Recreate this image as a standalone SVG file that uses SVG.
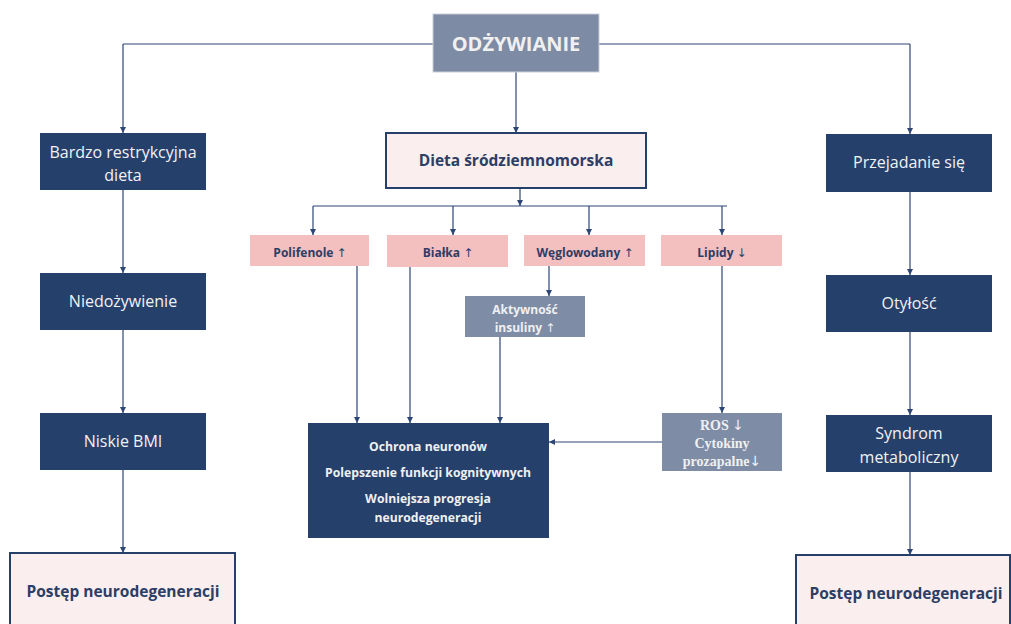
<svg xmlns="http://www.w3.org/2000/svg" width="1011" height="624" viewBox="0 0 1011 624">
<defs>
<marker id="ah" viewBox="0 0 10 10" refX="10" refY="5" markerWidth="6" markerHeight="6" markerUnits="userSpaceOnUse" orient="auto">
<path d="M0,0 L10,5 L0,10 z" fill="#2E4676"/>
</marker>
<style>
.ln{fill:none;stroke:#2E4676;stroke-width:1.2}
.ar{marker-end:url(#ah)}
.navy{fill:#26406C}
.grey{fill:#7F8CA6}
.pink{fill:#F4BFBF}
.light{fill:#FAEEEE;stroke:#26406C;stroke-width:2}
.tw{font-family:"Open Sans","Liberation Sans",sans-serif;font-size:16px;fill:#F2F2F2;text-anchor:middle}
.tb{font-family:"Open Sans","Liberation Sans",sans-serif;font-weight:bold;fill:#2C3E66;text-anchor:middle}
.tbw{font-family:"Open Sans","Liberation Sans",sans-serif;font-weight:bold;fill:#F0F0F0;text-anchor:middle}
.ts{font-family:"Liberation Serif",serif;font-weight:bold;font-size:14px;fill:#F0F0F0;text-anchor:middle}
.arw{font-family:"DejaVu Sans",sans-serif;font-weight:normal}
</style>
</defs>
<rect width="1011" height="624" fill="#FFFFFF"/>

<g id="connectors">
<path class="ln" d="M433,44 H123"/>
<path class="ln ar" d="M123,44 V133"/>
<path class="ln" d="M599,44 H910"/>
<path class="ln ar" d="M910,44 V134"/>
<path class="ln ar" d="M516,72 V133"/>
<path class="ln ar" d="M123,190 V273"/>
<path class="ln ar" d="M123,330 V413"/>
<path class="ln ar" d="M123,470 V553"/>
<path class="ln ar" d="M910,192 V275"/>
<path class="ln ar" d="M910,332 V415"/>
<path class="ln ar" d="M910,472 V555"/>
<path class="ln ar" d="M520,188 V206"/>
<path class="ln" d="M313,206 H727"/>
<path class="ln ar" d="M313,206 V235"/>
<path class="ln ar" d="M453,206 V235"/>
<path class="ln ar" d="M589,206 V235"/>
<path class="ln ar" d="M722,206 V235"/>
<path class="ln ar" d="M549,266 V296"/>
<path class="ln ar" d="M357,266 V423"/>
<path class="ln ar" d="M410,267 V423"/>
<path class="ln ar" d="M500,337 V423"/>
<path class="ln ar" d="M722,266 V413"/>
<path class="ln ar" d="M662,442 H549"/>
</g>

<g id="odzywianie">
<rect x="433" y="14" width="166" height="58" fill="#7E8BA4" stroke="#C9CEDA" stroke-width="1"/>
<text x="516" y="51" class="tbw" font-size="20" fill="#F6ECEC">ODŻYWIANIE</text>
</g>

<g id="bardzo">
<rect x="40" y="133" width="166" height="57" class="navy"/>
<text x="123" y="158" class="tw">Bardzo restrykcyjna</text>
<text x="123" y="181" class="tw">dieta</text>
</g>
<g id="niedozywienie">
<rect x="40" y="273" width="166" height="57" class="navy"/>
<text x="123" y="307" class="tw">Niedożywienie</text>
</g>
<g id="niskie-bmi">
<rect x="40" y="413" width="166" height="57" class="navy"/>
<text x="123" y="447" class="tw">Niskie BMI</text>
</g>
<g id="postep-left">
<rect x="10" y="553" width="225" height="90" class="light"/>
<text x="123" y="597" class="tb" font-size="15.5">Postęp neurodegeneracji</text>
</g>

<g id="przejadanie">
<rect x="826" y="134" width="166" height="58" class="navy"/>
<text x="909" y="168" class="tw">Przejadanie się</text>
</g>
<g id="otylosc">
<rect x="826" y="275" width="166" height="57" class="navy"/>
<text x="909" y="309" class="tw">Otyłość</text>
</g>
<g id="syndrom">
<rect x="826" y="415" width="166" height="57" class="navy"/>
<text x="909" y="439" class="tw">Syndrom</text>
<text x="909" y="463" class="tw">metaboliczny</text>
</g>
<g id="postep-right">
<rect x="796" y="555" width="214" height="90" class="light"/>
<text x="906" y="599" class="tb" font-size="15.5">Postęp neurodegeneracji</text>
</g>

<g id="dieta">
<rect x="386" y="133" width="260" height="55" class="light"/>
<text x="516" y="166" class="tb" font-size="15.5">Dieta śródziemnomorska</text>
</g>

<g id="polifenole">
<rect x="250" y="235" width="119" height="31" class="pink"/>
<text x="310" y="257" class="tb" font-size="12">Polifenole <tspan class="arw">↑</tspan></text>
</g>
<g id="bialka">
<rect x="387" y="235" width="121" height="32" class="pink"/>
<text x="448" y="257" class="tb" font-size="12">Białka <tspan class="arw">↑</tspan></text>
</g>
<g id="weglowodany">
<rect x="524" y="235" width="121" height="31" class="pink"/>
<text x="585" y="257" class="tb" font-size="12">Węglowodany <tspan class="arw">↑</tspan></text>
</g>
<g id="lipidy">
<rect x="661" y="235" width="121" height="31" class="pink"/>
<text x="722" y="257" class="tb" font-size="12">Lipidy <tspan class="arw">↓</tspan></text>
</g>

<g id="aktywnosc">
<rect x="465" y="296" width="120" height="41" class="grey"/>
<text x="525" y="314" class="tbw" font-size="12">Aktywność</text>
<text x="525" y="332" class="tbw" font-size="12">insuliny <tspan class="arw">↑</tspan></text>
</g>

<g id="ros">
<rect x="662" y="413" width="120" height="58" class="grey"/>
<text x="722" y="430" class="ts">ROS <tspan class="arw">↓</tspan></text>
<text x="722" y="448" class="ts">Cytokiny</text>
<text x="722" y="466" class="ts">prozapalne<tspan class="arw">↓</tspan></text>
</g>

<g id="ochrona">
<rect x="308" y="423" width="241" height="115" class="navy"/>
<text x="428" y="451" class="tbw" font-size="12.2">Ochrona neuronów</text>
<text x="428" y="477" class="tbw" font-size="12.2">Polepszenie funkcji kognitywnych</text>
<text x="428" y="503" class="tbw" font-size="12.2">Wolniejsza progresja</text>
<text x="428" y="522" class="tbw" font-size="12.2">neurodegeneracji</text>
</g>
</svg>
